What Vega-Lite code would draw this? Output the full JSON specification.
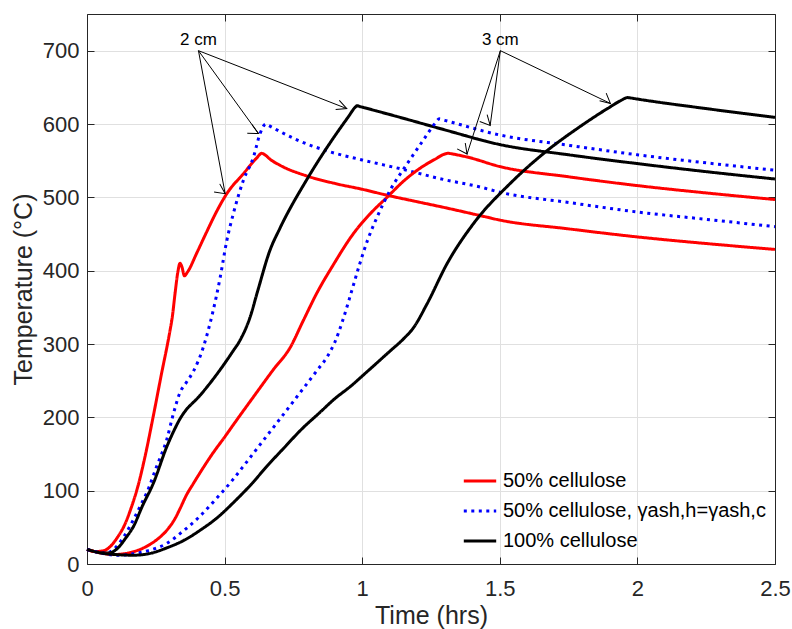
{
  "$schema": "https://vega.github.io/schema/vega-lite/v6.json",
  "autosize": "none",
  "width": 688,
  "height": 550,
  "padding": {"left": 87, "top": 14, "right": 17, "bottom": 65},
  "background": "white",
  "config": {
    "font": "Liberation Sans",
    "view": {"stroke": null},
    "axis": {
      "labelFont": "Liberation Sans", "titleFont": "Liberation Sans",
      "labelFontSize": 22, "titleFontSize": 25, "titleFontWeight": "normal",
      "labelColor": "#262626", "titleColor": "#262626",
      "domainColor": "#262626", "tickColor": "#262626", "domainWidth": 1, "tickWidth": 1,
      "tickSize": -7, "gridColor": "#e0e0e0", "gridWidth": 1, "labelFlush": false
    },
    "legend": {
      "labelFont": "Liberation Sans", "labelFontSize": 20, "labelColor": "#000000",
      "symbolType": "stroke", "symbolSize": 1050, "symbolStrokeWidth": 3,
      "labelOffset": 5, "rowPadding": 2, "padding": 0, "labelLimit": 400
    }
  },
  "datasets": {
    "curves": [
      {"m":"50% cellulose","s":"2 cm","t":0,"T":20},{"m":"50% cellulose","s":"2 cm","t":0.03,"T":17},{"m":"50% cellulose","s":"2 cm","t":0.06,"T":18},{"m":"50% cellulose","s":"2 cm","t":0.085,"T":24},{"m":"50% cellulose","s":"2 cm","t":0.11,"T":36},{"m":"50% cellulose","s":"2 cm","t":0.135,"T":52},{"m":"50% cellulose","s":"2 cm","t":0.16,"T":76},{"m":"50% cellulose","s":"2 cm","t":0.185,"T":106},{"m":"50% cellulose","s":"2 cm","t":0.21,"T":145},{"m":"50% cellulose","s":"2 cm","t":0.24,"T":200},{"m":"50% cellulose","s":"2 cm","t":0.27,"T":258},{"m":"50% cellulose","s":"2 cm","t":0.3,"T":315},{"m":"50% cellulose","s":"2 cm","t":0.31,"T":337},{"m":"50% cellulose","s":"2 cm","t":0.32,"T":369},{"m":"50% cellulose","s":"2 cm","t":0.33,"T":398},{"m":"50% cellulose","s":"2 cm","t":0.338,"T":410},{"m":"50% cellulose","s":"2 cm","t":0.345,"T":405},{"m":"50% cellulose","s":"2 cm","t":0.354,"T":393},{"m":"50% cellulose","s":"2 cm","t":0.365,"T":398},{"m":"50% cellulose","s":"2 cm","t":0.4,"T":425},{"m":"50% cellulose","s":"2 cm","t":0.435,"T":453},{"m":"50% cellulose","s":"2 cm","t":0.47,"T":480},{"m":"50% cellulose","s":"2 cm","t":0.508,"T":505},{"m":"50% cellulose","s":"2 cm","t":0.57,"T":533},{"m":"50% cellulose","s":"2 cm","t":0.615,"T":553},{"m":"50% cellulose","s":"2 cm","t":0.635,"T":560},{"m":"50% cellulose","s":"2 cm","t":0.65,"T":557},{"m":"50% cellulose","s":"2 cm","t":0.665,"T":552},{"m":"50% cellulose","s":"2 cm","t":0.7,"T":544},{"m":"50% cellulose","s":"2 cm","t":0.8,"T":529},{"m":"50% cellulose","s":"2 cm","t":0.9,"T":519},{"m":"50% cellulose","s":"2 cm","t":1.0,"T":511},{"m":"50% cellulose","s":"2 cm","t":1.1,"T":502},{"m":"50% cellulose","s":"2 cm","t":1.2,"T":494},{"m":"50% cellulose","s":"2 cm","t":1.3,"T":486},{"m":"50% cellulose","s":"2 cm","t":1.43,"T":475},{"m":"50% cellulose","s":"2 cm","t":1.5,"T":469},{"m":"50% cellulose","s":"2 cm","t":1.75,"T":457},{"m":"50% cellulose","s":"2 cm","t":2.0,"T":446},{"m":"50% cellulose","s":"2 cm","t":2.25,"T":437},{"m":"50% cellulose","s":"2 cm","t":2.5,"T":429},

      {"m":"50% cellulose, γash,h=γash,c","s":"2 cm","t":0,"T":20},{"m":"50% cellulose, γash,h=γash,c","s":"2 cm","t":0.04,"T":16},{"m":"50% cellulose, γash,h=γash,c","s":"2 cm","t":0.07,"T":15},{"m":"50% cellulose, γash,h=γash,c","s":"2 cm","t":0.1,"T":21},{"m":"50% cellulose, γash,h=γash,c","s":"2 cm","t":0.135,"T":38},{"m":"50% cellulose, γash,h=γash,c","s":"2 cm","t":0.168,"T":60},{"m":"50% cellulose, γash,h=γash,c","s":"2 cm","t":0.2,"T":84},{"m":"50% cellulose, γash,h=γash,c","s":"2 cm","t":0.217,"T":97},{"m":"50% cellulose, γash,h=γash,c","s":"2 cm","t":0.253,"T":133},{"m":"50% cellulose, γash,h=γash,c","s":"2 cm","t":0.29,"T":170},{"m":"50% cellulose, γash,h=γash,c","s":"2 cm","t":0.314,"T":205},{"m":"50% cellulose, γash,h=γash,c","s":"2 cm","t":0.338,"T":234},{"m":"50% cellulose, γash,h=γash,c","s":"2 cm","t":0.36,"T":247},{"m":"50% cellulose, γash,h=γash,c","s":"2 cm","t":0.387,"T":263},{"m":"50% cellulose, γash,h=γash,c","s":"2 cm","t":0.423,"T":296},{"m":"50% cellulose, γash,h=γash,c","s":"2 cm","t":0.447,"T":328},{"m":"50% cellulose, γash,h=γash,c","s":"2 cm","t":0.47,"T":365},{"m":"50% cellulose, γash,h=γash,c","s":"2 cm","t":0.484,"T":391},{"m":"50% cellulose, γash,h=γash,c","s":"2 cm","t":0.508,"T":441},{"m":"50% cellulose, γash,h=γash,c","s":"2 cm","t":0.532,"T":478},{"m":"50% cellulose, γash,h=γash,c","s":"2 cm","t":0.568,"T":523},{"m":"50% cellulose, γash,h=γash,c","s":"2 cm","t":0.605,"T":555},{"m":"50% cellulose, γash,h=γash,c","s":"2 cm","t":0.629,"T":587},{"m":"50% cellulose, γash,h=γash,c","s":"2 cm","t":0.65,"T":600},{"m":"50% cellulose, γash,h=γash,c","s":"2 cm","t":0.66,"T":598},{"m":"50% cellulose, γash,h=γash,c","s":"2 cm","t":0.7,"T":590},{"m":"50% cellulose, γash,h=γash,c","s":"2 cm","t":0.765,"T":578},{"m":"50% cellulose, γash,h=γash,c","s":"2 cm","t":0.884,"T":562},{"m":"50% cellulose, γash,h=γash,c","s":"2 cm","t":1.0,"T":551},{"m":"50% cellulose, γash,h=γash,c","s":"2 cm","t":1.138,"T":539},{"m":"50% cellulose, γash,h=γash,c","s":"2 cm","t":1.3,"T":524},{"m":"50% cellulose, γash,h=γash,c","s":"2 cm","t":1.43,"T":514},{"m":"50% cellulose, γash,h=γash,c","s":"2 cm","t":1.5,"T":507},{"m":"50% cellulose, γash,h=γash,c","s":"2 cm","t":1.75,"T":493},{"m":"50% cellulose, γash,h=γash,c","s":"2 cm","t":2.0,"T":480},{"m":"50% cellulose, γash,h=γash,c","s":"2 cm","t":2.25,"T":470},{"m":"50% cellulose, γash,h=γash,c","s":"2 cm","t":2.5,"T":460},

      {"m":"100% cellulose","s":"2 cm","t":0,"T":20},{"m":"100% cellulose","s":"2 cm","t":0.04,"T":16},{"m":"100% cellulose","s":"2 cm","t":0.08,"T":15},{"m":"100% cellulose","s":"2 cm","t":0.11,"T":21},{"m":"100% cellulose","s":"2 cm","t":0.14,"T":35},{"m":"100% cellulose","s":"2 cm","t":0.17,"T":52},{"m":"100% cellulose","s":"2 cm","t":0.2,"T":78},{"m":"100% cellulose","s":"2 cm","t":0.241,"T":110},{"m":"100% cellulose","s":"2 cm","t":0.29,"T":160},{"m":"100% cellulose","s":"2 cm","t":0.32,"T":185},{"m":"100% cellulose","s":"2 cm","t":0.338,"T":198},{"m":"100% cellulose","s":"2 cm","t":0.35,"T":205},{"m":"100% cellulose","s":"2 cm","t":0.411,"T":230},{"m":"100% cellulose","s":"2 cm","t":0.484,"T":265},{"m":"100% cellulose","s":"2 cm","t":0.53,"T":290},{"m":"100% cellulose","s":"2 cm","t":0.556,"T":305},{"m":"100% cellulose","s":"2 cm","t":0.593,"T":337},{"m":"100% cellulose","s":"2 cm","t":0.62,"T":372},{"m":"100% cellulose","s":"2 cm","t":0.665,"T":428},{"m":"100% cellulose","s":"2 cm","t":0.7,"T":457},{"m":"100% cellulose","s":"2 cm","t":0.8,"T":525},{"m":"100% cellulose","s":"2 cm","t":0.89,"T":578},{"m":"100% cellulose","s":"2 cm","t":0.95,"T":610},{"m":"100% cellulose","s":"2 cm","t":0.975,"T":623},{"m":"100% cellulose","s":"2 cm","t":0.982,"T":625},{"m":"100% cellulose","s":"2 cm","t":0.99,"T":624},{"m":"100% cellulose","s":"2 cm","t":1.0,"T":623},{"m":"100% cellulose","s":"2 cm","t":1.05,"T":618},{"m":"100% cellulose","s":"2 cm","t":1.138,"T":609},{"m":"100% cellulose","s":"2 cm","t":1.3,"T":592},{"m":"100% cellulose","s":"2 cm","t":1.5,"T":572},{"m":"100% cellulose","s":"2 cm","t":1.75,"T":558},{"m":"100% cellulose","s":"2 cm","t":2.0,"T":546},{"m":"100% cellulose","s":"2 cm","t":2.25,"T":535},{"m":"100% cellulose","s":"2 cm","t":2.5,"T":525},

      {"m":"50% cellulose","s":"3 cm","t":0,"T":20},{"m":"50% cellulose","s":"3 cm","t":0.05,"T":15},{"m":"50% cellulose","s":"3 cm","t":0.1,"T":13},{"m":"50% cellulose","s":"3 cm","t":0.15,"T":15},{"m":"50% cellulose","s":"3 cm","t":0.2,"T":21},{"m":"50% cellulose","s":"3 cm","t":0.23,"T":27},{"m":"50% cellulose","s":"3 cm","t":0.26,"T":35},{"m":"50% cellulose","s":"3 cm","t":0.29,"T":46},{"m":"50% cellulose","s":"3 cm","t":0.32,"T":62},{"m":"50% cellulose","s":"3 cm","t":0.34,"T":77},{"m":"50% cellulose","s":"3 cm","t":0.36,"T":93},{"m":"50% cellulose","s":"3 cm","t":0.387,"T":110},{"m":"50% cellulose","s":"3 cm","t":0.41,"T":124},{"m":"50% cellulose","s":"3 cm","t":0.459,"T":152},{"m":"50% cellulose","s":"3 cm","t":0.5,"T":173},{"m":"50% cellulose","s":"3 cm","t":0.532,"T":190},{"m":"50% cellulose","s":"3 cm","t":0.605,"T":228},{"m":"50% cellulose","s":"3 cm","t":0.677,"T":265},{"m":"50% cellulose","s":"3 cm","t":0.738,"T":295},{"m":"50% cellulose","s":"3 cm","t":0.786,"T":332},{"m":"50% cellulose","s":"3 cm","t":0.836,"T":370},{"m":"50% cellulose","s":"3 cm","t":0.895,"T":408},{"m":"50% cellulose","s":"3 cm","t":0.967,"T":450},{"m":"50% cellulose","s":"3 cm","t":1.03,"T":478},{"m":"50% cellulose","s":"3 cm","t":1.09,"T":500},{"m":"50% cellulose","s":"3 cm","t":1.15,"T":522},{"m":"50% cellulose","s":"3 cm","t":1.2,"T":537},{"m":"50% cellulose","s":"3 cm","t":1.26,"T":551},{"m":"50% cellulose","s":"3 cm","t":1.313,"T":560},{"m":"50% cellulose","s":"3 cm","t":1.33,"T":559},{"m":"50% cellulose","s":"3 cm","t":1.381,"T":555},{"m":"50% cellulose","s":"3 cm","t":1.5,"T":542},{"m":"50% cellulose","s":"3 cm","t":1.75,"T":528},{"m":"50% cellulose","s":"3 cm","t":2.0,"T":516},{"m":"50% cellulose","s":"3 cm","t":2.25,"T":506},{"m":"50% cellulose","s":"3 cm","t":2.5,"T":497},

      {"m":"50% cellulose, γash,h=γash,c","s":"3 cm","t":0,"T":20},{"m":"50% cellulose, γash,h=γash,c","s":"3 cm","t":0.05,"T":15},{"m":"50% cellulose, γash,h=γash,c","s":"3 cm","t":0.11,"T":12},{"m":"50% cellulose, γash,h=γash,c","s":"3 cm","t":0.17,"T":14},{"m":"50% cellulose, γash,h=γash,c","s":"3 cm","t":0.23,"T":19},{"m":"50% cellulose, γash,h=γash,c","s":"3 cm","t":0.29,"T":28},{"m":"50% cellulose, γash,h=γash,c","s":"3 cm","t":0.34,"T":42},{"m":"50% cellulose, γash,h=γash,c","s":"3 cm","t":0.41,"T":65},{"m":"50% cellulose, γash,h=γash,c","s":"3 cm","t":0.46,"T":85},{"m":"50% cellulose, γash,h=γash,c","s":"3 cm","t":0.53,"T":115},{"m":"50% cellulose, γash,h=γash,c","s":"3 cm","t":0.58,"T":139},{"m":"50% cellulose, γash,h=γash,c","s":"3 cm","t":0.654,"T":175},{"m":"50% cellulose, γash,h=γash,c","s":"3 cm","t":0.72,"T":207},{"m":"50% cellulose, γash,h=γash,c","s":"3 cm","t":0.775,"T":234},{"m":"50% cellulose, γash,h=γash,c","s":"3 cm","t":0.836,"T":264},{"m":"50% cellulose, γash,h=γash,c","s":"3 cm","t":0.87,"T":281},{"m":"50% cellulose, γash,h=γash,c","s":"3 cm","t":0.9,"T":302},{"m":"50% cellulose, γash,h=γash,c","s":"3 cm","t":0.93,"T":333},{"m":"50% cellulose, γash,h=γash,c","s":"3 cm","t":0.96,"T":370},{"m":"50% cellulose, γash,h=γash,c","s":"3 cm","t":0.99,"T":408},{"m":"50% cellulose, γash,h=γash,c","s":"3 cm","t":1.02,"T":442},{"m":"50% cellulose, γash,h=γash,c","s":"3 cm","t":1.054,"T":473},{"m":"50% cellulose, γash,h=γash,c","s":"3 cm","t":1.102,"T":510},{"m":"50% cellulose, γash,h=γash,c","s":"3 cm","t":1.164,"T":546},{"m":"50% cellulose, γash,h=γash,c","s":"3 cm","t":1.222,"T":578},{"m":"50% cellulose, γash,h=γash,c","s":"3 cm","t":1.265,"T":601},{"m":"50% cellulose, γash,h=γash,c","s":"3 cm","t":1.28,"T":607},{"m":"50% cellulose, γash,h=γash,c","s":"3 cm","t":1.3,"T":605},{"m":"50% cellulose, γash,h=γash,c","s":"3 cm","t":1.5,"T":585},{"m":"50% cellulose, γash,h=γash,c","s":"3 cm","t":1.75,"T":571},{"m":"50% cellulose, γash,h=γash,c","s":"3 cm","t":2.0,"T":558},{"m":"50% cellulose, γash,h=γash,c","s":"3 cm","t":2.25,"T":547},{"m":"50% cellulose, γash,h=γash,c","s":"3 cm","t":2.5,"T":537},

      {"m":"100% cellulose","s":"3 cm","t":0,"T":20},{"m":"100% cellulose","s":"3 cm","t":0.05,"T":15},{"m":"100% cellulose","s":"3 cm","t":0.1,"T":13},{"m":"100% cellulose","s":"3 cm","t":0.17,"T":12},{"m":"100% cellulose","s":"3 cm","t":0.236,"T":15},{"m":"100% cellulose","s":"3 cm","t":0.29,"T":22},{"m":"100% cellulose","s":"3 cm","t":0.356,"T":33},{"m":"100% cellulose","s":"3 cm","t":0.411,"T":46},{"m":"100% cellulose","s":"3 cm","t":0.476,"T":64},{"m":"100% cellulose","s":"3 cm","t":0.53,"T":83},{"m":"100% cellulose","s":"3 cm","t":0.6,"T":110},{"m":"100% cellulose","s":"3 cm","t":0.653,"T":133},{"m":"100% cellulose","s":"3 cm","t":0.72,"T":160},{"m":"100% cellulose","s":"3 cm","t":0.775,"T":182},{"m":"100% cellulose","s":"3 cm","t":0.85,"T":208},{"m":"100% cellulose","s":"3 cm","t":0.896,"T":224},{"m":"100% cellulose","s":"3 cm","t":0.96,"T":243},{"m":"100% cellulose","s":"3 cm","t":1.017,"T":262},{"m":"100% cellulose","s":"3 cm","t":1.1,"T":290},{"m":"100% cellulose","s":"3 cm","t":1.15,"T":307},{"m":"100% cellulose","s":"3 cm","t":1.186,"T":322},{"m":"100% cellulose","s":"3 cm","t":1.236,"T":355},{"m":"100% cellulose","s":"3 cm","t":1.309,"T":410},{"m":"100% cellulose","s":"3 cm","t":1.404,"T":464},{"m":"100% cellulose","s":"3 cm","t":1.538,"T":519},{"m":"100% cellulose","s":"3 cm","t":1.673,"T":564},{"m":"100% cellulose","s":"3 cm","t":1.782,"T":594},{"m":"100% cellulose","s":"3 cm","t":1.891,"T":621},{"m":"100% cellulose","s":"3 cm","t":1.94,"T":632},{"m":"100% cellulose","s":"3 cm","t":1.964,"T":636},{"m":"100% cellulose","s":"3 cm","t":1.975,"T":635.5},{"m":"100% cellulose","s":"3 cm","t":2.0,"T":634},{"m":"100% cellulose","s":"3 cm","t":2.25,"T":621},{"m":"100% cellulose","s":"3 cm","t":2.5,"T":609}
    ],
    "arrows": [
      {"id":"a1","g":"2 cm","t0":0.405,"T0":700,"t1":0.944,"T1":621},
      {"id":"a2","g":"2 cm","t0":0.405,"T0":700,"t1":0.623,"T1":587},
      {"id":"a3","g":"2 cm","t0":0.405,"T0":700,"t1":0.502,"T1":505},
      {"id":"a4","g":"3 cm","t0":1.502,"T0":700,"t1":1.902,"T1":628},
      {"id":"a5","g":"3 cm","t0":1.502,"T0":700,"t1":1.465,"T1":598},
      {"id":"a6","g":"3 cm","t0":1.502,"T0":700,"t1":1.381,"T1":559}
    ],
    "labels": [
      {"label":"2 cm","t":0.405,"T":714},
      {"label":"3 cm","t":1.502,"T":714}
    ]
  },
  "resolve": {"axis": {"x": "independent", "y": "independent"}},
  "layer": [
    {
      "data": {"name": "curves"},
      "mark": {"type": "line", "strokeWidth": 3, "strokeCap": "butt", "strokeJoin": "round", "interpolate": "monotone"},
      "encoding": {
        "x": {"field": "t", "type": "quantitative",
              "scale": {"domain": [0, 2.5], "nice": false, "zero": false},
              "axis": {"orient": "bottom", "title": "Time (hrs)", "values": [0, 0.5, 1, 1.5, 2, 2.5], "format": "~g", "grid": true, "labelPadding": 21, "titlePadding": 4}},
        "y": {"field": "T", "type": "quantitative",
              "scale": {"domain": [0, 750], "nice": false},
              "axis": {"orient": "left", "title": "Temperature (°C)", "values": [0, 100, 200, 300, 400, 500, 600, 700], "grid": true, "labelPadding": 15, "titlePadding": 6}},
        "color": {"field": "m", "type": "nominal",
                  "scale": {"domain": ["50% cellulose", "50% cellulose, γash,h=γash,c", "100% cellulose"], "range": ["#ff0000", "#0000ff", "#000000"]},
                  "legend": {"title": null, "orient": "none", "legendX": 375, "legendY": 449}},
        "strokeDash": {"field": "m", "type": "nominal",
                  "scale": {"domain": ["50% cellulose", "50% cellulose, γash,h=γash,c", "100% cellulose"], "range": [[1, 0], [3, 4.5], [1, 0]]},
                  "legend": {"title": null, "orient": "none", "legendX": 375, "legendY": 449}},
        "detail": {"field": "s", "type": "nominal"}
      }
    },
    {
      "data": {"name": "arrows"},
      "mark": {"type": "rule", "color": "#000000", "strokeWidth": 1},
      "encoding": {
        "x": {"field": "t0", "type": "quantitative", "scale": {"domain": [0, 2.5], "nice": false, "zero": false}, "axis": null},
        "y": {"field": "T0", "type": "quantitative", "scale": {"domain": [0, 750], "nice": false}, "axis": null},
        "x2": {"field": "t1"},
        "y2": {"field": "T1"}
      }
    },
    {
      "data": {"name": "arrows"},
      "mark": {"type": "point", "shape": "M -0.5 -1 L 0 0 L 0.5 -1", "filled": false, "stroke": "#000000", "strokeWidth": 1, "size": 400, "opacity": 1},
      "encoding": {
        "x": {"field": "t1", "type": "quantitative", "scale": {"domain": [0, 2.5], "nice": false, "zero": false},
              "axis": {"orient": "top", "title": null, "labels": false, "grid": false, "values": [0, 0.5, 1, 1.5, 2, 2.5]}},
        "y": {"field": "T1", "type": "quantitative", "scale": {"domain": [0, 750], "nice": false},
              "axis": {"orient": "right", "title": null, "labels": false, "grid": false, "values": [0, 100, 200, 300, 400, 500, 600, 700]}},
        "angle": {"field": "id", "type": "nominal", "scale": {"domain": ["a1", "a2", "a3", "a4", "a5", "a6"], "range": [-68.6, -35.8, -10.6, -64.1, 7.6, 17.9]}, "legend": null}
      }
    },
    {
      "data": {"name": "labels"},
      "mark": {"type": "text", "fontSize": 17, "font": "Liberation Sans", "color": "#000000", "align": "center", "baseline": "middle"},
      "encoding": {
        "x": {"field": "t", "type": "quantitative", "scale": {"domain": [0, 2.5], "nice": false, "zero": false}, "axis": null},
        "y": {"field": "T", "type": "quantitative", "scale": {"domain": [0, 750], "nice": false}, "axis": null},
        "text": {"field": "label", "type": "nominal"}
      }
    }
  ]
}
